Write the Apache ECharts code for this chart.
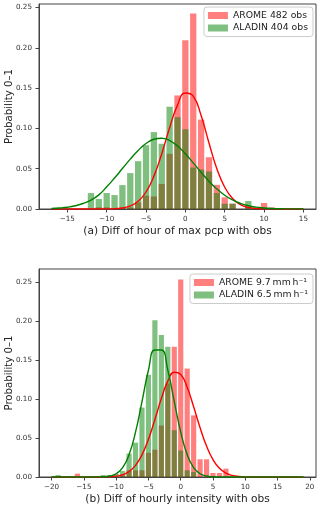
<!DOCTYPE html>
<html>
<head>
<meta charset="utf-8">
<script src="https://cdn.jsdelivr.net/npm/echarts@6/dist/echarts.min.js"></script>
<style>
  html, body { margin: 0; padding: 0; background: #fff; }
  #main { width: 320px; height: 506px; }
</style>
</head>
<body>
<div id="main"></div>
<script>
// (a) hour of max pcp - histogram bins and heights
var binsA   = [-12, -11, -10, -9, -8, -7, -6, -5, -4, -3, -2, -1, 0, 1, 2, 3, 4, 5, 6, 7, 8, 9, 10, 11];
var aromeA  = [0, 0.002, 0.002, 0, 0.002, 0.002, 0.0083, 0.0166, 0.0156, 0.0311, 0.0685, 0.141, 0.2095, 0.2427, 0.111, 0.0643, 0.030, 0.0145, 0.0066, 0, 0.002, 0, 0.0075, 0.002];
var aladinA = [0.0198, 0.0124, 0.0198, 0.0173, 0.0297, 0.0446, 0.0594, 0.0792, 0.0955, 0.081, 0.127, 0.114, 0.099, 0.0515, 0.049, 0.0466, 0.020, 0.0066, 0.0066, 0, 0.0099, 0, 0, 0];
// fitted curves
var curveXA     = [-17, -16, -15, -14, -13, -12, -11, -10, -9, -8, -7, -6, -5, -4, -3, -2, -1, 0, 1, 2, 3, 4, 5, 6, 7, 8, 9, 10, 11, 12, 13, 14, 15];
var aromeFitA   = [0, 0, 0, 0, 0, 0, 0, 0.0001, 0.0004, 0.0013, 0.0038, 0.0095, 0.0211, 0.0408, 0.0687, 0.1009, 0.129, 0.1441, 0.1402, 0.116, 0.082, 0.050, 0.027, 0.013, 0.0055, 0.002, 0.0007, 0.0002, 0.0001, 0, 0, 0, 0];
var aladinFitA  = [0.0006, 0.0012, 0.0022, 0.004, 0.0068, 0.011, 0.0175, 0.0275, 0.0385, 0.0502, 0.0619, 0.0727, 0.0813, 0.0866, 0.0879, 0.085, 0.0782, 0.0686, 0.0573, 0.0455, 0.0345, 0.0249, 0.0171, 0.0112, 0.007, 0.0041, 0.0023, 0.0013, 0.00065, 0.0003, 0.00015, 0.0001, 0.00003];

// (b) hourly intensity
var binsB   = [-19, -18, -17, -16, -15, -14, -13, -12, -11, -10, -9, -8, -7, -6, -5, -4, -3, -2, -1, 0, 1, 2, 3, 4, 5, 6, 7];
var aromeB  = [0, 0, 0, 0.0043, 0, 0, 0, 0, 0, 0, 0.002, 0.0086, 0.0086, 0.0086, 0.031, 0.035, 0.066, 0.12, 0.167, 0.253, 0.139, 0.079, 0.0227, 0.0227, 0.0052, 0.0052, 0.0107];
var aladinB = [0.0025, 0, 0, 0, 0, 0, 0, 0.0025, 0.0025, 0.004, 0.0077, 0.03, 0.044, 0.089, 0.131, 0.201, 0.182, 0.167, 0.06, 0.034, 0.0086, 0.0064, 0, 0, 0, 0, 0];
var curveXB     = [-20, -19, -18, -17, -16, -15, -14, -13, -12, -11, -10, -9, -8, -7, -6, -5, -4, -3, -2, -1, 0, 1, 2, 3, 4, 5, 6, 7, 8, 9, 10, 11, 12, 13, 14, 15, 16, 17, 18, 19];
var aromeFitB   = [0, 0, 0, 0, 0, 0, 0, 0, 0.0001, 0.0004, 0.0011, 0.0029, 0.007, 0.0149, 0.0284, 0.0484, 0.0737, 0.1006, 0.1229, 0.1343, 0.1314, 0.1149, 0.09, 0.0631, 0.0396, 0.0222, 0.0111, 0.005, 0.002, 0.0007, 0.0002, 0.0001, 0, 0, 0, 0, 0, 0, 0, 0];
var aladinFitB  = [0, 0, 0, 0, 0, 0, 0, 0.0001, 0.0003, 0.0013, 0.0042, 0.012, 0.0287, 0.0575, 0.0966, 0.1368, 0.1627, 0.1627, 0.1368, 0.0966, 0.0575, 0.0287, 0.012, 0.0042, 0.0013, 0.0003, 0.0001, 0, 0, 0, 0, 0, 0, 0, 0, 0, 0, 0, 0, 0];

var xTicksA = [-15, -10, -5, 0, 5, 10, 15];
var xTicksB = [-20, -15, -10, -5, 0, 5, 10, 15, 20];
var yTicksA = [0, 0.05, 0.10, 0.15, 0.20, 0.25];
var yTicksB = [0, 0.05, 0.10, 0.15, 0.20, 0.25];

var namesA = ['AROME 482 obs', 'ALADIN 404 obs'];
var namesB = ['AROME 9.7\u2009mm\u2009h\u207B\u00B9', 'ALADIN 6.5\u2009mm\u2009h\u207B\u00B9'];

function zip(xs, ys) {
    var out = [];
    for (var i = 0; i < xs.length; i++) out.push([xs[i], ys[i]]);
    return out;
}

var font = 'DejaVu Sans';
var frame = '#444';
var RED = 'rgba(255,0,0,0.5)';
var GREEN = 'rgba(0,128,0,0.5)';

function xAx(idx, min, max, ticks, title) {
    return {
        type: 'value', gridIndex: idx, min: min, max: max,
        name: title, nameLocation: 'middle', nameGap: 17, nameMoveOverlap: false,
        nameTextStyle: { fontFamily: font, fontSize: 10.6, color: '#222' },
        splitLine: { show: false },
        axisLine: { onZero: false, lineStyle: { color: frame } },
        axisTick: { show: true, length: 3.5, customValues: ticks, lineStyle: { color: frame } },
        axisLabel: {
            customValues: ticks, fontFamily: font, fontSize: 7.2, color: '#333', margin: 6.5,
            formatter: function (v) { return String(v).replace('-', '\u2212'); }
        }
    };
}

function yAx(idx, max, ticks) {
    return {
        type: 'value', gridIndex: idx, min: 0, max: max,
        name: 'Probability 0\u20131', nameLocation: 'middle', nameGap: 25, nameMoveOverlap: false,
        nameTextStyle: { fontFamily: font, fontSize: 10.2, color: '#222' },
        splitLine: { show: false },
        axisLine: { show: true, onZero: false, lineStyle: { color: frame } },
        axisTick: { show: true, length: 3.5, customValues: ticks, lineStyle: { color: frame } },
        axisLabel: {
            customValues: ticks, fontFamily: font, fontSize: 7.2, color: '#333', margin: 7,
            formatter: function (v) { return v.toFixed(2); }
        }
    };
}

// histogram bars as rects placed through the axis scales
function bars(name, xs, ys, color, idx, half) {
    return {
        name: name, type: 'custom', coordinateSystem: 'cartesian2d',
        xAxisIndex: idx, yAxisIndex: idx,
        data: zip(xs, ys), encode: { x: 0, y: 1 },
        itemStyle: { color: color }, silent: true, z: 2,
        renderItem: function (params, api) {
            var x = api.value(0), y = api.value(1);
            if (!y) return;
            var p0 = api.coord([x - half, y]);
            var p1 = api.coord([x + half, 0]);
            return {
                type: 'rect',
                shape: { x: p0[0], y: p0[1], width: p1[0] - p0[0], height: p1[1] - p0[1] },
                style: { fill: color }
            };
        }
    };
}

function curve(xs, ys, color, idx) {
    return {
        type: 'line', xAxisIndex: idx, yAxisIndex: idx,
        data: zip(xs, ys), smooth: true, showSymbol: false, silent: true,
        lineStyle: { color: color, width: 1.4 }, z: 5
    };
}

function legendAt(top, names) {
    return {
        data: names.map(function (n) { return { name: n, icon: 'rect' }; }),
        orient: 'vertical', right: 7, top: top,
        itemWidth: 20, itemHeight: 7, itemGap: 3.5,
        padding: [4, 5, 4, 4],
        backgroundColor: '#fff', borderColor: '#ccc', borderWidth: 1, borderRadius: 3,
        textStyle: { fontFamily: font, fontSize: 9.3, color: '#222' },
        selectedMode: false
    };
}

var myChart = echarts.init(document.getElementById('main'));
var option = {
    animation: false,
    backgroundColor: '#fff',
    grid: [
        { left: 39, top: 4, width: 277, height: 205, outerBoundsMode: 'none', containLabel: false,
          show: true, borderColor: frame, borderWidth: 1 },
        { left: 39, top: 269, width: 277, height: 208, outerBoundsMode: 'none', containLabel: false,
          show: true, borderColor: frame, borderWidth: 1 }
    ],
    legend: [legendAt(7, namesA), legendAt(274, namesB)],
    xAxis: [
        xAx(0, -18.6, 16.6, xTicksA, '(a) Diff of hour of max pcp with obs'),
        xAx(1, -21.95, 20.95, xTicksB, '(b) Diff of hourly intensity with obs')
    ],
    yAxis: [
        yAx(0, 0.2545, yTicksA),
        yAx(1, 0.2666, yTicksB)
    ],
    series: [
        bars(namesA[0], binsA, aromeA, RED, 0, 0.4),
        bars(namesA[1], binsA, aladinA, GREEN, 0, 0.4),
        curve(curveXA, aromeFitA, '#ff0000', 0),
        curve(curveXA, aladinFitA, '#008000', 0),
        bars(namesB[0], binsB, aromeB, RED, 1, 0.4),
        bars(namesB[1], binsB, aladinB, GREEN, 1, 0.4),
        curve(curveXB, aromeFitB, '#ff0000', 1),
        curve(curveXB, aladinFitB, '#008000', 1)
    ]
};
myChart.setOption(option);
</script>
</body>
</html>
